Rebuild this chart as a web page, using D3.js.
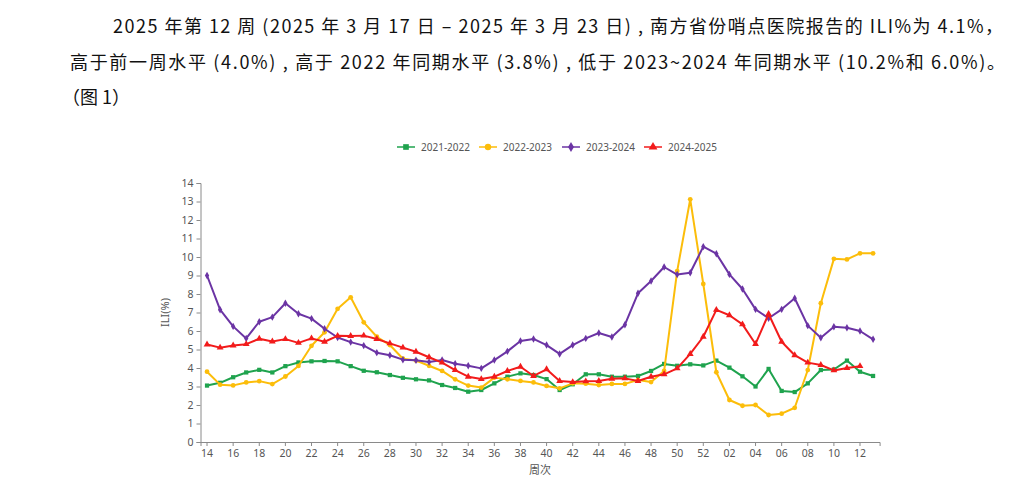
<!DOCTYPE html>
<html>
<head>
<meta charset="utf-8">
<script src="https://cdn.jsdelivr.net/npm/d3@7"></script>
<style>
  body { margin: 0; background: #fff; }
  svg { display: block; }
</style>
</head>
<body>
<div id="chart"></div>
<script>
// Data
const weeks = ["14","15","16","17","18","19","20","21","22","23","24","25","26","27","28","29","30","31","32","33","34","35","36","37","38","39","40","41","42","43","44","45","46","47","48","49","50","51","52","01","02","03","04","05","06","07","08","09","10","11","12","13"];

const s2021 = [3.05,3.2,3.5,3.76,3.9,3.76,4.1,4.3,4.36,4.38,4.36,4.1,
  3.85,3.77,3.62,3.47,3.39,3.33,3.08,2.92,2.72,2.81,3.17,3.53,3.71,3.62,
  3.4,2.81,3.12,3.66,3.66,3.53,3.53,3.57,3.84,4.22,4.12,4.2,4.14,
  4.4,4.02,3.55,3.0,3.95,2.76,2.7,3.17,3.89,3.92,4.4,3.8,3.57];

const s2022 = [3.8,3.1,3.06,3.22,3.29,3.13,3.54,4.11,5.2,5.93,7.2,7.82,
  6.47,5.69,5.24,4.5,4.4,4.12,3.84,3.39,3.05,2.94,3.48,3.39,3.3,3.22,
  3.03,2.9,3.17,3.15,3.08,3.14,3.14,3.35,3.24,3.84,9.24,13.12,8.54,
  3.77,2.27,1.96,2.0,1.46,1.53,1.85,3.89,7.5,9.9,9.87,10.2,10.2];

const s2023 = [9.0,7.15,6.25,5.6,6.5,6.75,7.5,6.93,6.67,6.12,5.65,5.4,
  5.21,4.83,4.69,4.45,4.42,4.32,4.43,4.23,4.12,3.98,4.43,4.9,5.46,5.57,
  5.24,4.76,5.24,5.6,5.89,5.68,6.34,8.04,8.7,9.46,9.05,9.15,10.56,
  10.18,9.06,8.27,7.17,6.69,7.17,7.77,6.29,5.64,6.23,6.18,6.0,5.55];

const s2024 = [5.27,5.1,5.22,5.29,5.58,5.43,5.56,5.36,5.6,5.42,5.74,5.73,
  5.75,5.57,5.33,5.1,4.88,4.58,4.29,3.89,3.53,3.4,3.53,3.84,4.07,3.57,
  3.93,3.3,3.24,3.28,3.3,3.42,3.44,3.3,3.53,3.66,3.98,4.76,5.69,
  7.14,6.85,6.36,5.3,6.92,5.42,4.69,4.29,4.16,3.87,4.0,4.1,null];

const seasonNames = ["2021-2022","2022-2023","2023-2024","2024-2025"];
const yTicks = d3.range(0, 15);

const textLines = [
  "2025 年第 12 周 (2025 年 3 月 17 日 – 2025 年 3 月 23 日) , 南方省份哨点医院报告的 ILI%为 4.1%，",
  "高于前一周水平 (4.0%) , 高于 2022 年同期水平 (3.8%) , 低于 2023~2024 年同期水平 (10.2%和 6.0%)。",
  "（图 1）"
];

// Series styling
const series = [
  { name: seasonNames[0], values: s2021, color: "#1fa34e", symbol: d3.symbolSquare, size: 18 },
  { name: seasonNames[1], values: s2022, color: "#fcbd0a", symbol: d3.symbolCircle, size: 18 },
  { name: seasonNames[2], values: s2023, color: "#6b34a4", symbol: d3.symbolDiamond, size: 16 },
  { name: seasonNames[3], values: s2024, color: "#f21b1b", symbol: d3.symbolTriangle, size: 20 }
];

const W = 1016, H = 499;
const svg = d3.select("#chart").append("svg")
  .attr("width", W).attr("height", H);

// Paragraph text
const para = svg.append("g")
  .style("font-family", "'Noto Sans CJK SC', 'Noto Sans', sans-serif")
  .style("font-size", "18px")
  .attr("fill", "#111");

para.append("text").attr("x", 113).attr("y", 33)
  .attr("textLength", 890).attr("lengthAdjust", "spacing")
  .text(textLines[0]);
para.append("text").attr("x", 70).attr("y", 69)
  .attr("textLength", 935).attr("lengthAdjust", "spacing")
  .text(textLines[1]);
para.append("text").attr("x", 62).attr("y", 104)
  .text(textLines[2]);

// Scales
const plotLeft = 200.5, plotRight = 879.6, plotTop = 183, plotBottom = 442;

const xScale = d3.scaleBand().domain(weeks).range([plotLeft, plotRight]).padding(0);
const yScale = d3.scaleLinear().domain([0, 14]).range([plotBottom, plotTop]);
const xc = w => xScale(w) + xScale.bandwidth() / 2;

const axisColor = "#8a8a8a";
const labelColor = "#555";
const fontAxis = "'Noto Sans', 'Open Sans', sans-serif";

// X axis
const xAxis = svg.append("g")
  .attr("transform", `translate(0,${plotBottom})`)
  .call(d3.axisBottom(xScale)
    .tickValues(weeks.filter((d, i) => i % 2 === 0))
    .tickSizeOuter(0)
    .tickSize(4)
    .tickPadding(4));
xAxis.select(".domain").attr("stroke", axisColor);
xAxis.selectAll(".tick line").attr("stroke", axisColor);
xAxis.selectAll(".tick text")
  .attr("fill", labelColor)
  .style("font-family", fontAxis)
  .style("font-size", "10.5px");

// Y axis
const yAxis = svg.append("g")
  .attr("transform", `translate(${plotLeft},0)`)
  .call(d3.axisLeft(yScale).tickValues(yTicks).tickSizeOuter(0).tickSize(4).tickPadding(3));
yAxis.select(".domain").attr("stroke", axisColor);
yAxis.selectAll(".tick line").attr("stroke", axisColor);
yAxis.selectAll(".tick text")
  .attr("fill", labelColor)
  .style("font-family", fontAxis)
  .style("font-size", "10.5px");

// Axis titles
svg.append("text")
  .attr("x", (plotLeft + plotRight) / 2)
  .attr("y", 474)
  .attr("text-anchor", "middle")
  .attr("fill", labelColor)
  .style("font-family", "'Noto Sans CJK SC', sans-serif")
  .style("font-size", "11px")
  .text("周次");

svg.append("text")
  .attr("transform", `translate(169,${(plotTop + plotBottom) / 2}) rotate(-90)`)
  .attr("text-anchor", "middle")
  .attr("fill", labelColor)
  .style("font-family", fontAxis)
  .style("font-size", "11px")
  .text("ILI(%)");

// Lines and markers
const line = d3.line()
  .defined(d => d.v !== null)
  .x(d => xc(d.w))
  .y(d => yScale(d.v));

series.forEach(s => {
  const pts = s.values.map((v, i) => ({ w: weeks[i], v: v }));
  svg.append("path")
    .datum(pts)
    .attr("d", line)
    .attr("fill", "none")
    .attr("stroke", s.color)
    .attr("stroke-width", 2)
    .attr("stroke-linejoin", "round");

  svg.append("g").selectAll("path")
    .data(pts.filter(d => d.v !== null))
    .enter()
    .append("path")
    .attr("d", d3.symbol().type(s.symbol).size(s.size))
    .attr("transform", d => `translate(${xc(d.w)},${yScale(d.v)})`)
    .attr("fill", s.color);
});

// Legend
const legendX = [397, 479, 562, 644];
const legend = svg.append("g");
series.forEach((s, i) => {
  const g = legend.append("g").attr("transform", `translate(${legendX[i]},147)`);
  g.append("line")
    .attr("x1", 0).attr("x2", 18).attr("y1", 0).attr("y2", 0)
    .attr("stroke", s.color).attr("stroke-width", 1.5);
  g.append("path")
    .attr("d", d3.symbol().type(s.symbol).size(s.size + 14))
    .attr("transform", "translate(9,0)")
    .attr("fill", s.color);
  g.append("text")
    .attr("x", 24).attr("y", 3.5)
    .attr("fill", labelColor)
    .style("font-family", fontAxis)
    .style("font-size", "10px")
    .text(s.name);
});
</script>
</body>
</html>
